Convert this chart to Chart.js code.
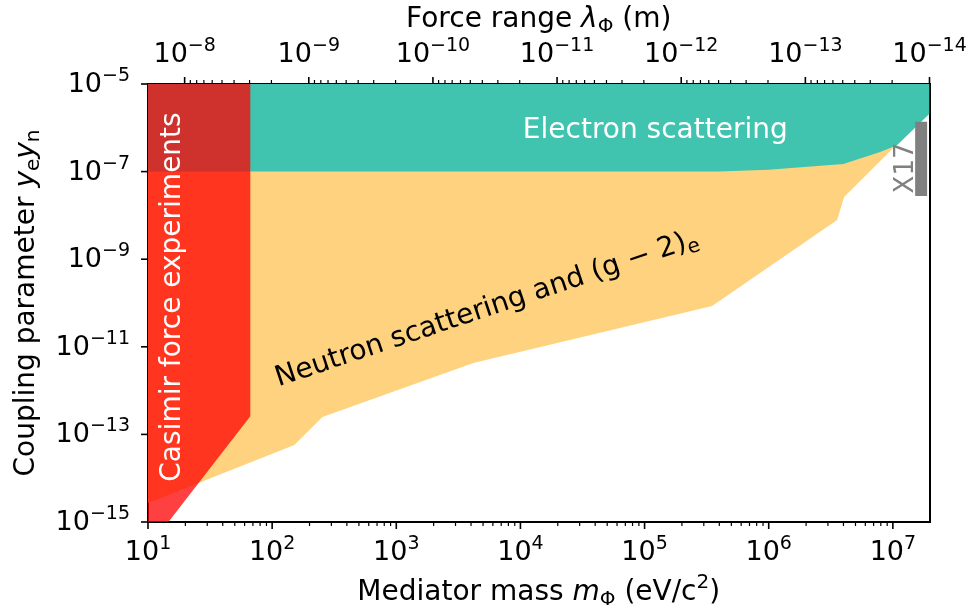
<!DOCTYPE html>
<html>
<head>
<meta charset="utf-8">
<script src="https://cdn.jsdelivr.net/npm/chart.js@4.4.0/dist/chart.umd.min.js"></script>
<style>
  html, body { margin: 0; padding: 0; background: #fff; }
  #wrap { width: 973px; height: 613px; }
</style>
</head>
<body>
<div id="wrap"><canvas id="limits" width="973" height="613"></canvas></div>
<script>
// hbar*c in eV*m: force range = HBARC / mass
const HBARC = 1.9733e-7;

const massRange = [10, 1.9733e7];
const couplingRange = [1e-15, 1e-5];

const massTicks = [1e1, 1e2, 1e3, 1e4, 1e5, 1e6, 1e7];
const massTickExp = ['1', '2', '3', '4', '5', '6', '7'];
const rangeTicks = [1e-8, 1e-9, 1e-10, 1e-11, 1e-12, 1e-13, 1e-14];
const rangeTickExp = ['\u22128', '\u22129', '\u221210', '\u221211', '\u221212', '\u221213', '\u221214'];
const couplingTicks = [1e-5, 1e-7, 1e-9, 1e-11, 1e-13, 1e-15];
const couplingTickExp = ['\u22125', '\u22127', '\u22129', '\u221211', '\u221213', '\u221215'];

// excluded regions as closed outlines: mass (eV/c^2) and coupling
const electronMass = [10, 1.9733e7, 1.9733e7, 1.08e7, 7.9e6, 4e6, 1e6, 4e5, 10, 10];
const electronCoupling = [1e-5, 1e-5, 2.1e-6, 4e-7, 2.8e-7, 1.5e-7, 1.1e-7, 1e-7, 1e-7, 1e-5];

const neutronMass = [10, 25.5, 151, 254, 4.18e3, 3.5e5, 3.56e6, 4.05e6, 1.08e7, 4e6, 10, 10];
const neutronCoupling = [2.7e-15, 7.8e-15, 5.7e-14, 2.5e-13, 4.27e-12, 8.5e-11, 7.85e-9, 2.63e-8, 4.2e-7, 3e-7, 3e-7, 2.7e-15];

const casimirMass = [10, 66.7, 66.7, 14.6, 10, 10];
const casimirCoupling = [1e-5, 1e-5, 2.6e-13, 1e-15, 1e-15, 1e-5];

const x17Mass = [1.69e7, 1.69e7];
const x17Coupling = [1.38e-6, 2.77e-8];

const FAMILY = '"DejaVu Sans", sans-serif';
const TICK_FONT = '27px ' + FAMILY;
const SUP_FONT = '19px ' + FAMILY;
const LABEL_FONT = '28px ' + FAMILY;
const LABEL_IT = 'italic 28px ' + FAMILY;
const LABEL_SUB = '20px ' + FAMILY;

const pts = (xs, ys) => xs.map((x, i) => ({ x: x, y: ys[i] }));

function region(label, xs, ys, color, order) {
  return {
    type: 'line', label: label, data: pts(xs, ys), order: order,
    showLine: true, fill: 'shape', backgroundColor: color,
    borderColor: 'rgba(0,0,0,0)', borderWidth: 0, pointRadius: 0, tension: 0
  };
}

// "10" with a raised exponent, like matplotlib's mathtext tick labels
function powLabel(ctx, exp, x, y, align) {
  ctx.font = TICK_FONT;
  const wb = ctx.measureText('10').width;
  ctx.font = SUP_FONT;
  const we = ctx.measureText(exp).width;
  const x0 = align === 'right' ? x - wb - we : x - (wb + we) / 2;
  ctx.textAlign = 'left';
  ctx.textBaseline = 'alphabetic';
  ctx.font = TICK_FONT;
  ctx.fillText('10', x0, y);
  ctx.font = SUP_FONT;
  ctx.fillText(exp, x0 + wb, y - 11);
}

// text made of pieces in different fonts, centred on its baseline at (x, y)
function richText(ctx, parts, x, y, angle, color) {
  ctx.save();
  ctx.translate(x, y);
  ctx.rotate(angle);
  ctx.fillStyle = color || '#000';
  ctx.textAlign = 'left';
  ctx.textBaseline = 'alphabetic';
  let w = 0;
  parts.forEach(p => { ctx.font = p.font; p.w = ctx.measureText(p.text).width; w += p.w; });
  let cx = -w / 2;
  parts.forEach(p => { ctx.font = p.font; ctx.fillText(p.text, cx, p.dy || 0); cx += p.w; });
  ctx.restore();
}

function minorValues(lo, hi) {
  const out = [];
  for (let e = Math.floor(Math.log10(lo)); e <= Math.ceil(Math.log10(hi)); e++) {
    for (let m = 2; m <= 9; m++) {
      const v = m * Math.pow(10, e);
      if (v >= lo && v <= hi) out.push(v);
    }
  }
  return out;
}

const decor = {
  id: 'decor',
  afterDraw(chart) {
    const { ctx, chartArea: a, scales } = chart;
    const sx = scales.x, st = scales.x2, sy = scales.y;
    ctx.save();
    ctx.strokeStyle = '#000';
    ctx.fillStyle = '#000';

    const tick = (x1, y1, x2, y2, w) => {
      ctx.lineWidth = w;
      ctx.beginPath(); ctx.moveTo(x1, y1); ctx.lineTo(x2, y2); ctx.stroke();
    };

    // bottom axis
    massTicks.forEach((v, i) => {
      const px = sx.getPixelForValue(v);
      tick(px, a.bottom, px, a.bottom + 7, 1.6);
      powLabel(ctx, massTickExp[i], px, a.bottom + 38, 'center');
    });
    minorValues(massRange[0], massRange[1]).forEach(v => {
      const px = sx.getPixelForValue(v);
      tick(px, a.bottom, px, a.bottom + 4, 1.2);
    });

    // top axis, force range
    rangeTicks.forEach((v, i) => {
      const px = st.getPixelForValue(v);
      tick(px, a.top, px, a.top - 7, 1.6);
      powLabel(ctx, rangeTickExp[i], px, 62, 'center');
    });
    minorValues(HBARC / massRange[1], HBARC / massRange[0]).forEach(v => {
      const px = st.getPixelForValue(v);
      tick(px, a.top, px, a.top - 4, 1.2);
    });

    // left axis
    couplingTicks.forEach((v, i) => {
      const py = sy.getPixelForValue(v);
      tick(a.left, py, a.left - 7, py, 1.6);
      powLabel(ctx, couplingTickExp[i], a.left - 18, py + 8, 'right');
    });

    const midX = (a.left + a.right) / 2;
    const midY = (a.top + a.bottom) / 2;
    richText(ctx, [
      { text: 'Mediator mass ', font: LABEL_FONT },
      { text: 'm', font: LABEL_IT },
      { text: '\u03a6', font: LABEL_SUB, dy: 5 },
      { text: ' (eV/c', font: LABEL_FONT },
      { text: '2', font: LABEL_SUB, dy: -12 },
      { text: ')', font: LABEL_FONT }
    ], midX, 600, 0);
    richText(ctx, [
      { text: 'Force range ', font: LABEL_FONT },
      { text: '\u03bb', font: LABEL_IT },
      { text: '\u03a6', font: LABEL_SUB, dy: 5 },
      { text: ' (m)', font: LABEL_FONT }
    ], midX, 27, 0);
    richText(ctx, [
      { text: 'Coupling parameter ', font: LABEL_FONT },
      { text: 'y', font: LABEL_IT },
      { text: 'e', font: LABEL_SUB, dy: 5 },
      { text: 'y', font: LABEL_IT },
      { text: 'n', font: LABEL_SUB, dy: 5 }
    ], 34, midY, -Math.PI / 2);

    // region labels, anchored in data coordinates
    const at = (m, g) => [sx.getPixelForValue(m), sy.getPixelForValue(g)];
    let p = at(1.22e5, 5.85e-7);
    richText(ctx, [{ text: 'Electron scattering', font: LABEL_FONT }], p[0], p[1], 0, '#fff');
    p = at(5.6e3, 5.1e-11);
    richText(ctx, [
      { text: 'Neutron scattering and (g \u2212 2)', font: LABEL_FONT },
      { text: 'e', font: LABEL_SUB, dy: 5 }
    ], p[0], p[1], -18.5 * Math.PI / 180, '#000');
    p = at(18.2, 1.37e-10);
    richText(ctx, [{ text: 'Casimir force experiments', font: LABEL_FONT }], p[0], p[1], -Math.PI / 2, '#fff');
    p = at(1.46e7, 1.21e-7);
    richText(ctx, [{ text: 'X17', font: '26px ' + FAMILY }], p[0], p[1], -Math.PI / 2, '#808080');
    ctx.restore();
  }
};

const frame = () => ({
  grid: { display: true, drawOnChartArea: false, drawTicks: false },
  border: { display: true, color: '#000', width: 2 },
  ticks: { display: false }
});

new Chart(document.getElementById('limits'), {
  type: 'scatter',
  data: {
    datasets: [
      region('Neutron scattering', neutronMass, neutronCoupling, '#ffd27f', 4),
      region('Electron scattering', electronMass, electronCoupling, '#40c4b0', 3),
      region('Casimir', casimirMass, casimirCoupling, 'rgba(255,0,0,0.75)', 2),
      {
        type: 'line', label: 'X17', data: pts(x17Mass, x17Coupling), order: 1,
        showLine: true, borderColor: '#808080', borderWidth: 12, borderCapStyle: 'butt',
        pointRadius: 0, fill: false
      }
    ]
  },
  options: {
    responsive: false,
    animation: false,
    devicePixelRatio: 1,
    events: [],
    layout: { padding: 0 },
    plugins: { legend: { display: false }, tooltip: { enabled: false } },
    scales: {
      x: Object.assign(frame(), {
        type: 'logarithmic', position: 'bottom', min: massRange[0], max: massRange[1],
        afterFit: s => { s.height = 91; }
      }),
      x2: Object.assign(frame(), {
        type: 'logarithmic', position: 'top', reverse: true,
        min: HBARC / massRange[1], max: HBARC / massRange[0],
        afterFit: s => { s.height = 84; }
      }),
      y: Object.assign(frame(), {
        type: 'logarithmic', position: 'left', min: couplingRange[0], max: couplingRange[1],
        afterFit: s => { s.width = 148; }
      }),
      y2: Object.assign(frame(), {
        type: 'logarithmic', position: 'right', min: couplingRange[0], max: couplingRange[1],
        afterFit: s => { s.width = 43.5; }
      })
    }
  },
  plugins: [decor]
});
</script>
</body>
</html>
